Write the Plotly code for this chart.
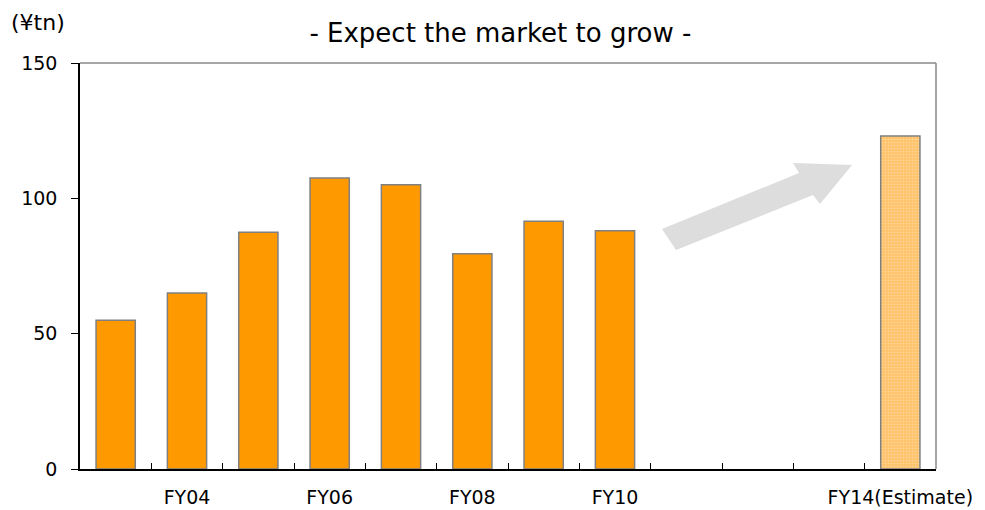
import plotly.graph_objects as go

# Fiscal years on the category axis (FY11-FY13 are empty slots)
years = ["FY03", "FY04", "FY05", "FY06", "FY07", "FY08", "FY09", "FY10",
         "FY11", "FY12", "FY13", "FY14"]
tick_text = ["", "FY04", "", "FY06", "", "FY08", "", "FY10",
             "", "", "", "FY14(Estimate)"]

# Market size, ¥ trillion
actual_years = ["FY03", "FY04", "FY05", "FY06", "FY07", "FY08", "FY09", "FY10"]
actual_values = [55, 65, 87.5, 107.5, 105, 79.5, 91.5, 88]
estimate_years = ["FY14"]
estimate_values = [123]

FONT = "DejaVu Sans"

fig = go.Figure()

fig.add_trace(go.Bar(
    x=actual_years, y=actual_values,
    marker=dict(color="#FF9900", line=dict(color="#808080", width=1.5)),
    showlegend=False, hoverinfo="x+y",
))

fig.add_trace(go.Bar(
    x=estimate_years, y=estimate_values,
    marker=dict(
        color="#FFC266",
        line=dict(color="#808080", width=1.5),
        pattern=dict(shape=".", fgcolor="#FFE6C2", size=3, solidity=0.4),
    ),
    showlegend=False, hoverinfo="x+y",
))

# Growth arrow (decorative), in paper coordinates of the plot area
L, R, T, B = 80, 936, 63, 469
W, H = R - L, B - T


def px(x, y):
    return (x - L) / W, (B - y) / H


arrow_pts = [(662, 229), (799, 173), (793, 163), (852, 165),
             (820, 204), (813, 195), (676, 250)]
path = "M " + " L ".join(f"{px(x, y)[0]:.4f},{px(x, y)[1]:.4f}" for x, y in arrow_pts) + " Z"
fig.add_shape(type="path", path=path, xref="paper", yref="paper",
              fillcolor="#DDDDDD", line=dict(width=0), layer="below")

# Grey frame on top and right
fig.add_shape(type="line", xref="paper", yref="paper", x0=0, x1=1, y0=1, y1=1,
              line=dict(color="#888888", width=1.5))
fig.add_shape(type="line", xref="paper", yref="paper", x0=1, x1=1, y0=0, y1=1,
              line=dict(color="#888888", width=1.5))

fig.update_layout(
    width=985, height=510,
    margin=dict(l=L, r=985 - R, t=T, b=510 - B, autoexpand=False),
    paper_bgcolor="white", plot_bgcolor="white",
    bargap=0.45,
    font=dict(family=FONT, color="black", size=17),
    title=dict(text="- Expect the market to grow -", x=0.508, xanchor="center",
               y=1 - 33 / 510, yanchor="middle",
               font=dict(family=FONT, size=26, color="black")),
    xaxis=dict(
        type="category", categoryorder="array", categoryarray=years,
        tickmode="array", tickvals=years, ticktext=tick_text,
        tickson="boundaries", ticks="inside", ticklen=6, tickcolor="black",
        showline=True, linecolor="black", linewidth=1.5,
        showgrid=False, ticklabelstandoff=10, tickangle=0, automargin=False,
        tickfont=dict(family=FONT, size=19),
        range=[-0.5, 11.5],
    ),
    yaxis=dict(
        range=[0, 150], tickvals=[0, 50, 100, 150],
        ticks="outside", ticklen=7, tickcolor="black",
        showline=True, linecolor="black", linewidth=1.5,
        showgrid=False, zeroline=False, ticklabelstandoff=10, automargin=False,
        tickfont=dict(family=FONT, size=19),
    ),
    annotations=[dict(text="(¥tn)", xref="paper", yref="paper",
                      x=(9 - L) / W, y=(B - 22) / H, xanchor="left", yanchor="middle",
                      showarrow=False, font=dict(family=FONT, size=22))],
)

fig.write_html("out.html")
